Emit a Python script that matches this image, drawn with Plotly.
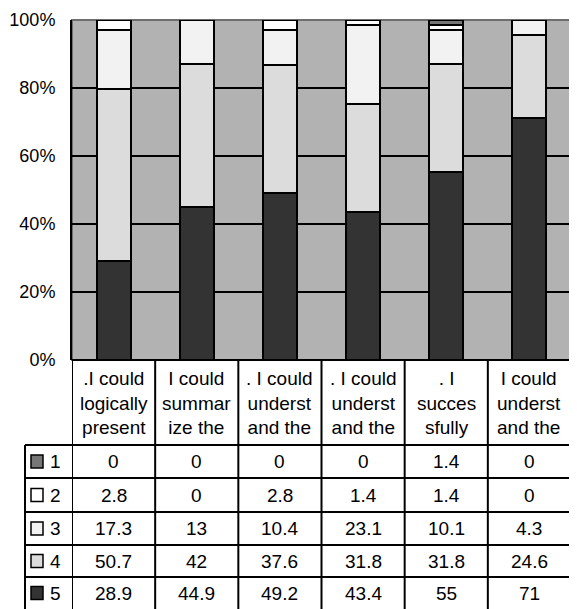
import plotly.graph_objects as go

categories = [".I could<br>logically<br>present", "I could<br>summar<br>ize the",
              ". I could<br>underst<br>and the", ". I could<br>underst<br>and the",
              ". I<br>succes<br>sfully", "I could<br>underst<br>and the"]
series_names = ["1", "2", "3", "4", "5"]
s1 = [0, 0, 0, 0, 1.4, 0]
s2 = [2.8, 0, 2.8, 1.4, 1.4, 0]
s3 = [17.3, 13, 10.4, 23.1, 10.1, 4.3]
s4 = [50.7, 42, 37.6, 31.8, 31.8, 24.6]
s5 = [28.9, 44.9, 49.2, 43.4, 55, 71]
y_ticks = [0, 20, 40, 60, 80, 100]
y_tick_labels = ["0%", "20%", "40%", "60%", "80%", "100%"]

colors = {"1": "#767676", "2": "#ffffff", "3": "#f2f2f2", "4": "#dcdcdc", "5": "#333333"}
series = {"1": s1, "2": s2, "3": s3, "4": s4, "5": s5}

W, H = 577, 609
OFF = 8  # page body margin
FONT = "Liberation Sans"


def px(x):
    return (x - OFF) / W


def py(y):
    return 1 - (y - OFF) / H


idx = list(range(len(categories)))
fig = go.Figure()
for name in ["5", "4", "3", "2", "1"]:
    fig.add_trace(go.Bar(x=idx, y=series[name], name=name,
                         marker=dict(color=colors[name], line=dict(color="black", width=2))))

shapes = []
annotations = []

# plot area border (gray top/right)
shapes.append(dict(type="rect", xref="paper", yref="paper", x0=px(72), x1=px(571),
                   y0=py(360), y1=py(20), line=dict(color="#6e6e6e", width=2), layer="between"))

# table geometry
table_top, header_bottom = 360, 445
row_edges = [445, 478, 512, 545, 577, 612]
left_legend = 25
n = len(categories)

# horizontal lines
shapes.append(dict(type="line", xref="x", yref="paper", x0=-0.5, x1=n - 0.5,
                   y0=py(table_top), y1=py(table_top), line=dict(color="black", width=2)))
for e in row_edges[:-1]:
    shapes.append(dict(type="line", xref="paper", yref="paper", x0=px(left_legend), x1=px(571),
                       y0=py(e), y1=py(e), line=dict(color="black", width=2)))
# vertical lines at category boundaries
for k in range(n + 1):
    shapes.append(dict(type="line", xref="x", yref="paper", x0=k - 0.5, x1=k - 0.5,
                       y0=py(table_top), y1=py(H + 20), line=dict(color="black", width=2)))
shapes.append(dict(type="line", xref="paper", yref="paper", x0=px(left_legend), x1=px(left_legend),
                   y0=py(header_bottom), y1=py(H + 20), line=dict(color="black", width=2)))

# headers
for i, c in enumerate(categories):
    annotations.append(dict(x=i, xref="x", y=py((table_top + header_bottom) / 2), yref="paper",
                            text=c, showarrow=False, font=dict(size=19, color="black", family=FONT),
                            align="center", yanchor="middle"))

# rows
for r, name in enumerate(series_names):
    yc = (row_edges[r] + row_edges[r + 1]) / 2
    if r == len(series_names) - 1:
        yc = row_edges[r] + 16
    shapes.append(dict(type="rect", xref="paper", yref="paper", x0=px(31), x1=px(43),
                       y0=py(yc + 6.5), y1=py(yc - 6.5), fillcolor=colors[name],
                       line=dict(color="black", width=1.5)))
    annotations.append(dict(x=px(55), xref="paper", y=py(yc), yref="paper", text=name,
                            showarrow=False, font=dict(size=19, color="black", family=FONT),
                            xanchor="center", yanchor="middle"))
    for i, v in enumerate(series[name]):
        annotations.append(dict(x=i, xref="x", y=py(yc), yref="paper", text=f"{v:g}",
                                showarrow=False, font=dict(size=19, color="black", family=FONT),
                                xanchor="center", yanchor="middle"))

fig.update_layout(
    template="none",
    width=W, height=H, autosize=False,
    margin=dict(l=0, r=0, t=0, b=0, pad=0),
    paper_bgcolor="white", plot_bgcolor="#b2b2b2",
    barmode="stack", barnorm="percent", bargap=0.59,
    showlegend=False,
    font=dict(family=FONT, color="black"),
    xaxis=dict(domain=[px(72), px(571)], range=[-0.5, n - 0.5], showticklabels=False,
               showgrid=False, zeroline=False, showline=False, ticks="", automargin=False),
    yaxis=dict(domain=[py(360), py(20)], range=[0, 100], tickmode="array",
               tickvals=y_ticks, ticktext=y_tick_labels, automargin=False,
               showgrid=True, gridcolor="black", gridwidth=2, zeroline=False,
               showline=True, linecolor="black", linewidth=2, ticks="",
               ticklabelstandoff=11, tickfont=dict(size=18, color="black", family=FONT)),
    shapes=shapes, annotations=annotations,
)

fig.write_html("out.html")
